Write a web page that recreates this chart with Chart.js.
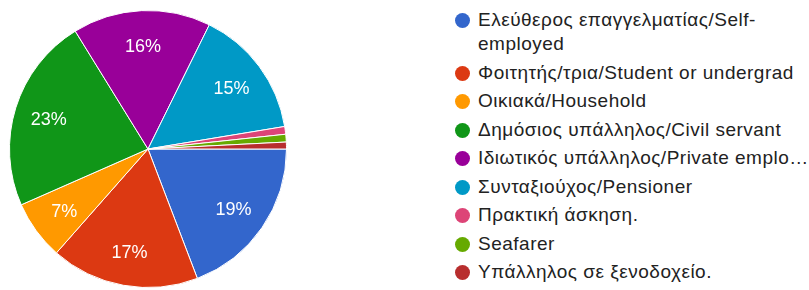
<!DOCTYPE html>
<html>
<head>
<meta charset="utf-8">
<script src="https://cdn.jsdelivr.net/npm/chart.js@4.4.0/dist/chart.umd.min.js"></script>
<style>
  body { margin: 0; background: #fff; width: 809px; height: 290px; overflow: hidden; position: relative; font-family: "Liberation Sans", Arial, sans-serif; }
  #wrap { position: absolute; left: 0; top: 0; width: 296px; height: 290px; }
  #legend { position: absolute; left: 454px; top: 8px; width: 362px; list-style: none; margin: 0; padding: 0; }
  #legend li { position: relative; padding-left: 24px; font-size: 19px; letter-spacing: 0.5px; line-height: 24px; color: #222; margin-bottom: 4.5px; white-space: normal; }
  #legend li span.dot { position: absolute; left: 1px; top: 5px; width: 15px; height: 15px; border-radius: 50%; }
</style>
</head>
<body>
<div id="wrap"><canvas id="pieChart" width="296" height="290"></canvas></div>
<ul id="legend"></ul>
<script>
const categories = [
  "Ελεύθερος επαγγελματίας/Self-employed",
  "Φοιτητής/τρια/Student or undergrad",
  "Οικιακά/Household",
  "Δημόσιος υπάλληλος/Civil servant",
  "Ιδιωτικός υπάλληλος/Private emplo…",
  "Συνταξιούχος/Pensioner",
  "Πρακτική άσκηση.",
  "Seafarer",
  "Υπάλληλος σε ξενοδοχείο."
];
const shares = [19.2, 17.3, 6.9, 22.8, 16.1, 15.1, 0.9, 0.9, 0.8];
const colors = ["#3366cc", "#dc3912", "#ff9900", "#109618", "#990099", "#0099c6", "#dd4477", "#66aa00", "#b82e2e"];

const total = shares.reduce((acc, x) => acc + x, 0);

const percentLabels = {
  id: "percentLabels",
  afterDatasetsDraw(chart) {
    const ctx = chart.ctx;
    const meta = chart.getDatasetMeta(0);
    ctx.save();
    ctx.fillStyle = "#fff";
    ctx.font = "18px 'Liberation Sans', Arial, sans-serif";
    ctx.textAlign = "center";
    ctx.textBaseline = "middle";
    meta.data.forEach((arc, i) => {
      const pct = shares[i] / total * 100;
      if (pct < 5) return;
      const mid = (arc.startAngle + arc.endAngle) / 2;
      const r = arc.outerRadius * 0.75;
      ctx.fillText(`${Math.round(pct)}%`, arc.x + Math.cos(mid) * r, arc.y + Math.sin(mid) * r + 2);
    });
    ctx.restore();
  },
};

new Chart(document.getElementById("pieChart").getContext("2d"), {
  type: "pie",
  data: {
    labels: categories,
    datasets: [
      {
        data: shares,
        backgroundColor: colors,
        borderColor: "#fff",
        borderWidth: 1,
      },
    ],
  },
  options: {
    responsive: false,
    animation: false,
    rotation: 90,
    layout: { padding: { top: 10, bottom: 2, left: 8, right: 8 } },
    plugins: { legend: { display: false }, tooltip: { enabled: false } },
  },
  plugins: [percentLabels],
});

const legendNode = document.getElementById("legend");
categories.forEach((name, i) => {
  const li = document.createElement("li");
  li.innerHTML = `<span class="dot" style="background:${colors[i]}"></span>${name}`;
  legendNode.appendChild(li);
});
</script>
</body>
</html>
